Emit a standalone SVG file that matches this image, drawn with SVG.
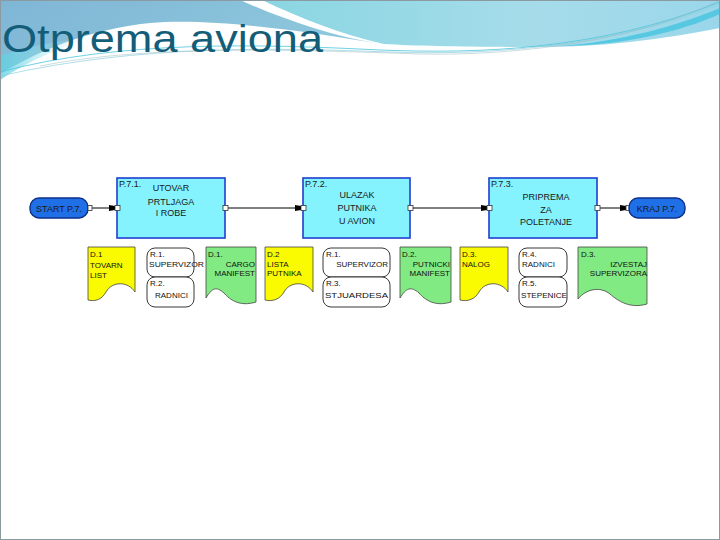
<svg xmlns="http://www.w3.org/2000/svg" width="720" height="540" viewBox="0 0 720 540">
<defs>
<linearGradient id="gBlue" x1="0" y1="0" x2="1" y2="0.3">
<stop offset="0" stop-color="#7fb6d6"/><stop offset="1" stop-color="#8ec8dc"/>
</linearGradient>
<linearGradient id="gCyan" x1="0" y1="0" x2="1" y2="0">
<stop offset="0" stop-color="#8ad6e2"/><stop offset="0.6" stop-color="#a6dcea"/><stop offset="1" stop-color="#9ad6ea"/>
</linearGradient>
<linearGradient id="gLow" x1="0" y1="0" x2="1" y2="0">
<stop offset="0" stop-color="#5fd0e0"/><stop offset="1" stop-color="#c8f0f4" stop-opacity="0"/>
</linearGradient>
<marker id="ah" viewBox="0 0 6 6" refX="6" refY="3" markerWidth="6" markerHeight="6" markerUnits="userSpaceOnUse" orient="auto">
<path d="M0,0 L6,1 L6,5 L0,6 Z" fill="#000"/>
</marker>
<style>
.proc{fill:#84f3fd;stroke:#1f3fcf;stroke-width:1.6}
.pill{fill:#1f6fe6;stroke:#0e2f8a;stroke-width:1.4}
.port{fill:#fff;stroke:#333;stroke-width:0.8}
.conn{stroke:#000;stroke-width:1;fill:none}
.t{font-family:"Liberation Sans",Arial,sans-serif;font-size:9px;fill:#1a1a1a}
.s{font-family:"Liberation Sans",Arial,sans-serif;font-size:8px;fill:#111}
.mid{text-anchor:middle}
.end{text-anchor:end}
.yel{fill:#fafa00;stroke:#444;stroke-width:0.8}
.grn{fill:#82ea82;stroke:#444;stroke-width:0.8}
.res{fill:#fff;stroke:#222;stroke-width:0.9}
</style>
</defs>
<rect x="0" y="0" width="720" height="540" fill="#fff"/>
<g id="header">
<path d="M0,0 H240 C280,18 330,36 380,44 C300,30 210,18 150,23 C90,29 40,50 0,74 Z" fill="url(#gBlue)"/>
<path d="M262,0 H720 V28 C660,40 600,47 540,47 C470,47 420,46 384,44 C340,34 300,18 262,0 Z" fill="url(#gCyan)"/>
<path d="M0,56 C30,46 60,40 90,38 C60,48 30,60 0,80 Z" fill="url(#gLow)" opacity="0.8"/>
<path d="M560,46 C620,42 680,25 720,8 V14 C680,32 620,46 560,46 Z" fill="#56c8e2"/>
<path d="M0,72 C120,40 260,44 380,50 C480,54 600,50 720,2" fill="none" stroke="#4cc4da" stroke-width="0.8"/>
<path d="M0,76 C140,44 280,48 390,52 C500,56 620,44 720,4" fill="none" stroke="#8dd0dc" stroke-width="0.7"/>
<path d="M40,66 C150,44 300,50 420,54 C520,56 640,40 720,0" fill="none" stroke="#9ab8c0" stroke-width="0.5"/>
<text x="2" y="52" font-family="'Liberation Sans',Arial,sans-serif" font-size="38" fill="#135d78" textLength="321" lengthAdjust="spacingAndGlyphs">Otprema aviona</text>
</g>
<rect x="0.5" y="0.5" width="719" height="539" fill="none" stroke="#8a9aa0" stroke-width="1"/>

<g id="connectors">
<line class="conn" x1="92" y1="208" x2="115" y2="208" marker-end="url(#ah)"/>
<line class="conn" x1="227" y1="208" x2="301" y2="208" marker-end="url(#ah)"/>
<line class="conn" x1="412" y1="208" x2="487" y2="208" marker-end="url(#ah)"/>
<line class="conn" x1="599" y1="208" x2="626" y2="208" marker-end="url(#ah)"/>
</g>

<g id="start">
<rect class="pill" x="30" y="198" width="58" height="20" rx="9"/>
<text class="t" x="59" y="211.5" text-anchor="middle" fill="#0a1a40">START P.7.</text>
<rect class="port" x="88" y="205.5" width="4" height="5"/>
</g>

<g id="p71">
<rect class="proc" x="117" y="178" width="108" height="60"/>
<rect class="port" x="115" y="205.5" width="5" height="5"/>
<rect class="port" x="223" y="205.5" width="5" height="5"/>
<text class="t" x="119" y="187">P.7.1.</text>
<text class="t mid" x="171" y="191">UTOVAR</text>
<text class="t mid" x="171" y="205">PRTLJAGA</text>
<text class="t mid" x="171" y="216">I ROBE</text>
</g>

<g id="p72">
<rect class="proc" x="303" y="178" width="107" height="60"/>
<rect class="port" x="301" y="205.5" width="5" height="5"/>
<rect class="port" x="408" y="205.5" width="5" height="5"/>
<text class="t" x="305" y="187">P.7.2.</text>
<text class="t mid" x="357" y="198">ULAZAK</text>
<text class="t mid" x="357" y="211">PUTNIKA</text>
<text class="t mid" x="357" y="224">U AVION</text>
</g>

<g id="p73">
<rect class="proc" x="489" y="178" width="108" height="60"/>
<rect class="port" x="487" y="205.5" width="5" height="5"/>
<rect class="port" x="595" y="205.5" width="5" height="5"/>
<text class="t" x="491" y="187">P.7.3.</text>
<text class="t mid" x="546" y="200">PRIPREMA</text>
<text class="t mid" x="546" y="213">ZA</text>
<text class="t mid" x="546" y="225">POLETANJE</text>
</g>

<g id="kraj">
<rect class="port" x="626" y="205.5" width="4" height="5"/>
<rect class="pill" x="629" y="198" width="56" height="20" rx="9"/>
<text class="t" x="657" y="211.5" text-anchor="middle" fill="#0a1a40">KRAJ P.7.</text>
</g>

<g id="d1y">
<path class="yel" d="M88,247 H135 V292 C128,281 112,281 106,292 C102,299 96,302 88,300 Z"/>
<text class="s" x="90" y="257">D.1</text>
<text class="s" x="90" y="268">TOVARN</text>
<text class="s" x="90" y="278">LIST</text>
</g>

<g id="r1r2a">
<rect class="res" x="147" y="248" width="47" height="29" rx="8"/>
<rect class="res" x="147" y="277" width="47" height="30" rx="8"/>
<text class="s" x="150" y="257">R.1.</text>
<text class="s" x="149" y="267" textLength="55" lengthAdjust="spacingAndGlyphs">SUPERVIZOR</text>
<text class="s" x="150" y="286">R.2.</text>
<text class="s" x="155" y="298">RADNICI</text>
</g>

<g id="d1g">
<path class="grn" d="M206,247 H256 V302 C240,307 230,300 224,293 C216,286 212,288 206,298 Z"/>
<text class="s" x="208" y="257">D.1.</text>
<text class="s end" x="255" y="267">CARGO</text>
<text class="s end" x="255" y="276">MANIFEST</text>
</g>

<g id="d2y">
<path class="yel" d="M265,247 H313 V292 C306,281 290,281 284,292 C280,299 273,302 265,300 Z"/>
<text class="s" x="267" y="257">D.2</text>
<text class="s" x="267" y="267">LISTA</text>
<text class="s" x="267" y="276">PUTNIKA</text>
</g>

<g id="r1r3">
<rect class="res" x="323" y="248" width="67" height="29" rx="8"/>
<rect class="res" x="323" y="277" width="67" height="30" rx="8"/>
<text class="s" x="326" y="257">R.1.</text>
<text class="s end" x="388" y="267">SUPERVIZOR</text>
<text class="s" x="326" y="286">R.3.</text>
<text class="s" x="325" y="298" textLength="63" lengthAdjust="spacingAndGlyphs">STJUARDESA</text>
</g>

<g id="d2g">
<path class="grn" d="M400,247 H451 V302 C435,307 425,300 419,293 C411,286 406,288 400,298 Z"/>
<text class="s" x="402" y="257">D.2.</text>
<text class="s end" x="450" y="267">PUTNICKI</text>
<text class="s end" x="450" y="276">MANIFEST</text>
</g>

<g id="d3y">
<path class="yel" d="M460,247 H508 V292 C501,281 485,281 479,292 C475,299 468,302 460,300 Z"/>
<text class="s" x="462" y="257">D.3.</text>
<text class="s" x="462" y="267">NALOG</text>
</g>

<g id="r4r5">
<rect class="res" x="519" y="248" width="48" height="29" rx="8"/>
<rect class="res" x="519" y="277" width="48" height="30" rx="8"/>
<text class="s" x="522" y="257">R.4.</text>
<text class="s" x="522" y="267">RADNICI</text>
<text class="s" x="522" y="286">R.5.</text>
<text class="s" x="521" y="298" textLength="46" lengthAdjust="spacingAndGlyphs">STEPENICE</text>
</g>

<g id="d3g">
<path class="grn" d="M578,247 H647 V304 C630,309 618,301 610,294 C600,286 586,289 578,299 Z"/>
<text class="s" x="581" y="257">D.3.</text>
<text class="s end" x="647" y="267">IZVESTAJ</text>
<text class="s end" x="647" y="276">SUPERVIZORA</text>
</g>
</svg>
